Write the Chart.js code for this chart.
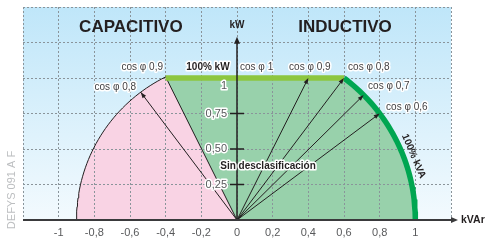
<!DOCTYPE html>
<html>
<head>
<meta charset="utf-8">
<script src="https://cdn.jsdelivr.net/npm/chart.js@4.4.0/dist/chart.umd.min.js"></script>
<style>
  html, body { margin: 0; padding: 0; background: #fff; }
  #wrap { width: 498px; height: 242px; }
</style>
</head>
<body>
<div id="wrap"><canvas id="diagrama"></canvas></div>
<script>
'use strict';

/****************************** Datos ******************************/

// ejes
var xMin = -1.2, xMax = 1.2, xStep = 0.2;
var yMin = 0, yMax = 1.5, yStep = 0.25;
var yTickValues = [0.25, 0.5, 0.75, 1];
var yTickLabels = ['0,25', '0,50', '0,75', '1'];

// limites del diagrama
var kwLimit = 1;        // 100% kW
var kvaRadius = 1;      // 100% kVA (kVAr con kW = 0)
var capRadius = 0.9;    // limite capacitivo
var kwPerKvar = 1.25;   // escala kW / kVAr del circulo
var kvaStart = 0.6;     // el arco kVA corta 100% kW en cos 0,8
var capEnd = -0.4;      // el arco capacitivo corta 100% kW en cos 0,9

// rayos cos phi
var indCos = ['0,9', '0,8', '0,7', '0,6'];
var indRayX = [0.40, 0.60, 0.71, 0.80];
var indRayY = [1, 1, 0.88, 0.75];
var capCos = ['0,8'];
var capRayX = [-0.54];
var capRayY = [0.90];

/************************** Preparacion ****************************/

// puntos del circulo x^2 + (y / kwPerKvar)^2 = r^2 entre x0 y x1
function arco(r, x0, x1, n) {
  var a0 = Math.acos(x0 / r), a1 = Math.acos(x1 / r);
  var pts = [];
  for (var i = 0; i <= n; i++) {
    var a = a0 + (a1 - a0) * i / n;
    pts.push({x: r * Math.cos(a), y: kwPerKvar * r * Math.sin(a)});
  }
  return pts;
}

var arcoKva = arco(kvaRadius, kvaStart, kvaRadius, 40);
var arcoCap = arco(capRadius, -capRadius, capEnd, 40).concat([{x: 0, y: 0}]);
var techo = [{x: capEnd, y: kwLimit}, {x: kvaStart, y: kwLimit}];

var rayos = [];
indRayX.forEach(function(x, i) {
  rayos.push({data: [{x: 0, y: 0}, {x: x, y: indRayY[i]}], borderColor: '#231f20', borderWidth: 1, fill: false});
});
capRayX.forEach(function(x, i) {
  rayos.push({data: [{x: 0, y: 0}, {x: x, y: capRayY[i]}], borderColor: '#231f20', borderWidth: 1, fill: false});
});

// el dataset 0 se dibuja encima
var datasets = [
  {data: techo, borderColor: '#8dc63f', borderWidth: 5.5, borderCapStyle: 'butt', fill: false},
  {data: arcoKva, borderColor: '#00a651', borderWidth: 5.5, borderCapStyle: 'butt', fill: false}
].concat(rayos).concat([
  {data: arcoCap, borderColor: '#231f20', borderWidth: 1, fill: false},
  {data: arcoCap, borderWidth: 0, borderColor: 'transparent', backgroundColor: '#f9d3e4', fill: 'origin'},
  {data: techo.concat(arcoKva), borderWidth: 0, borderColor: 'transparent', backgroundColor: '#98d1ab', fill: 'origin'}
]);
var idxRosaFill = datasets.length - 2;
var idxRayos = 2;

var FONT = '"Liberation Sans", Arial, sans-serif';

var etiquetas = [
  {t: 'CAPACITIVO', x: -0.595, y: 1.36, font: 'bold 17px ' + FONT, align: 'center', color: '#231f20'},
  {t: 'INDUCTIVO', x: 0.606, y: 1.36, font: 'bold 17px ' + FONT, align: 'center', color: '#231f20'},
  {t: 'kW', x: 0, y: 1.373, font: 'bold 10px ' + FONT, align: 'center', color: '#231f20'},
  {t: '100% kW', x: -0.163, y: 1.077, font: 'bold 10px ' + FONT, align: 'center', color: '#231f20', halo: true},
  {t: 'cos \u03c6 1', x: 0.017, y: 1.077, font: '10px ' + FONT, align: 'left', color: '#414042', halo: true},
  {t: 'cos \u03c6 ' + indCos[0], x: 0.292, y: 1.077, font: '10px ' + FONT, align: 'left', color: '#414042', halo: true},
  {t: 'cos \u03c6 ' + indCos[1], x: 0.623, y: 1.077, font: '10px ' + FONT, align: 'left', color: '#414042', halo: true},
  {t: 'cos \u03c6 ' + indCos[2], x: 0.735, y: 0.944, font: '10px ' + FONT, align: 'left', color: '#414042', halo: true},
  {t: 'cos \u03c6 ' + indCos[3], x: 0.836, y: 0.796, font: '10px ' + FONT, align: 'left', color: '#414042', halo: true},
  {t: 'cos \u03c6 0,9', x: -0.415, y: 1.077, font: '10px ' + FONT, align: 'right', color: '#414042', halo: true},
  {t: 'cos \u03c6 ' + capCos[0], x: -0.566, y: 0.937, font: '10px ' + FONT, align: 'right', color: '#414042', halo: true},
  {t: 'Sin desclasificaci\u00f3n', x: 0.174, y: 0.38, font: 'bold 10px ' + FONT, align: 'center', color: '#231f20', halo: true},
  {t: '100% kVA', x: 0.99, y: 0.45, font: 'bold 10px ' + FONT, align: 'center', color: '#231f20', rot: 67}
];

/************************** Plugin dibujo ***************************/

function punta(ctx, x0, y0, x1, y1, len, half) {
  var a = Math.atan2(y1 - y0, x1 - x0);
  var c = Math.cos(a), s = Math.sin(a);
  ctx.beginPath();
  ctx.moveTo(x1, y1);
  ctx.lineTo(x1 - len * c + half * s, y1 - len * s - half * c);
  ctx.lineTo(x1 - len * c - half * s, y1 - len * s + half * c);
  ctx.closePath();
  ctx.fill();
}

function texto(ctx, e, px, py) {
  ctx.save();
  ctx.font = e.font;
  ctx.textAlign = e.align;
  ctx.textBaseline = 'middle';
  ctx.translate(px, py);
  if (e.rot) ctx.rotate(e.rot * Math.PI / 180);
  if (e.halo) {
    ctx.strokeStyle = '#ffffff';
    ctx.lineWidth = 3;
    ctx.lineJoin = 'round';
    ctx.strokeText(e.t, 0, 0);
  }
  ctx.fillStyle = e.color;
  ctx.fillText(e.t, 0, 0);
  ctx.restore();
}

var dibujo = {
  id: 'dibujo',
  beforeDraw: function(chart) {
    var a = chart.chartArea, ctx = chart.ctx;
    var g = ctx.createLinearGradient(0, a.top, 0, a.bottom);
    g.addColorStop(0, '#bfe6f9');
    g.addColorStop(1, '#f3fafe');
    ctx.save();
    ctx.fillStyle = g;
    ctx.fillRect(a.left, a.top, a.right - a.left, a.bottom - a.top);
    ctx.restore();
  },
  afterDatasetDraw: function(chart, args) {
    // la rejilla se ve por encima de las zonas coloreadas
    if (args.index === idxRosaFill) {
      chart.scales.x.drawGrid(chart.chartArea);
      chart.scales.y.drawGrid(chart.chartArea);
    }
  },
  afterDatasetsDraw: function(chart) {
    var ctx = chart.ctx, xs = chart.scales.x, ys = chart.scales.y, a = chart.chartArea;
    var x0 = xs.getPixelForValue(0), y0 = ys.getPixelForValue(0);
    ctx.save();
    ctx.fillStyle = '#231f20';

    // puntas de los rayos
    for (var i = idxRayos; i < idxRayos + rayos.length; i++) {
      var pts = chart.getDatasetMeta(i).data;
      punta(ctx, pts[0].x, pts[0].y, pts[1].x, pts[1].y, 6, 2.2);
    }

    // eje kW
    var yTop = ys.getPixelForValue(1.29);
    ctx.strokeStyle = '#231f20';
    ctx.lineWidth = 1.5;
    ctx.beginPath();
    ctx.moveTo(x0, y0);
    ctx.lineTo(x0, yTop + 5);
    ctx.stroke();
    punta(ctx, x0, y0, x0, yTop, 7, 3);

    // marcas y valores kW
    ctx.lineWidth = 1.5;
    yTickValues.forEach(function(v, i) {
      var py = ys.getPixelForValue(v);
      if (v < 1) {
        ctx.beginPath();
        ctx.moveTo(x0 - 7, py);
        ctx.lineTo(x0 + 7, py);
        ctx.stroke();
      }
      texto(ctx, {t: yTickLabels[i], font: '11px ' + FONT, align: 'right', color: '#58595b', halo: true},
        x0 - 10, v < 1 ? py : py + 8);
    });

    // eje kVAr
    ctx.strokeStyle = '#3a3a3c';
    ctx.fillStyle = '#3a3a3c';
    ctx.lineWidth = 2;
    ctx.beginPath();
    ctx.moveTo(a.left, y0);
    ctx.lineTo(a.right + 2, y0);
    ctx.stroke();
    punta(ctx, a.left, y0, a.right + 7, y0, 7, 3);
    texto(ctx, {t: 'kVAr', font: 'bold 10.5px ' + FONT, align: 'left', color: '#231f20'}, a.right + 10, y0);

    etiquetas.forEach(function(e) {
      texto(ctx, e, xs.getPixelForValue(e.x), ys.getPixelForValue(e.y));
    });

    // referencia
    texto(ctx, {t: 'DEFYS 091 A F', font: '11px ' + FONT, align: 'center', color: '#bcbec0', rot: -90}, 12, 190);
    ctx.restore();
  }
};

/**************************** Grafico *******************************/

new Chart(document.getElementById('diagrama').getContext('2d'), {
  type: 'line',
  data: {datasets: datasets},
  options: {
    responsive: true,
    maintainAspectRatio: false,
    animation: false,
    events: [],
    layout: {padding: {left: 23, right: 47, top: 7, bottom: 0}},
    elements: {point: {radius: 0}, line: {tension: 0}},
    plugins: {legend: {display: false}, tooltip: {enabled: false}},
    scales: {
      x: {
        type: 'linear',
        min: xMin, max: xMax,
        grid: {color: '#8a949a', lineWidth: 1, drawTicks: false},
        border: {display: false, dash: [2, 2]},
        afterFit: function(scale) { scale.height = 22; },
        ticks: {
          stepSize: xStep,
          padding: 6,
          color: '#58595b',
          font: {family: FONT, size: 11},
          callback: function(v) {
            if (Math.abs(Math.abs(v) - 1.2) < 1e-6) return '';
            return String(Number(v.toFixed(1))).replace('.', ',');
          }
        }
      },
      y: {
        type: 'linear',
        min: yMin, max: yMax,
        grid: {color: '#8a949a', lineWidth: 1, drawTicks: false},
        border: {display: false, dash: [2, 2]},
        ticks: {stepSize: yStep, display: false}
      }
    }
  },
  plugins: [dibujo]
});
</script>
</body>
</html>
